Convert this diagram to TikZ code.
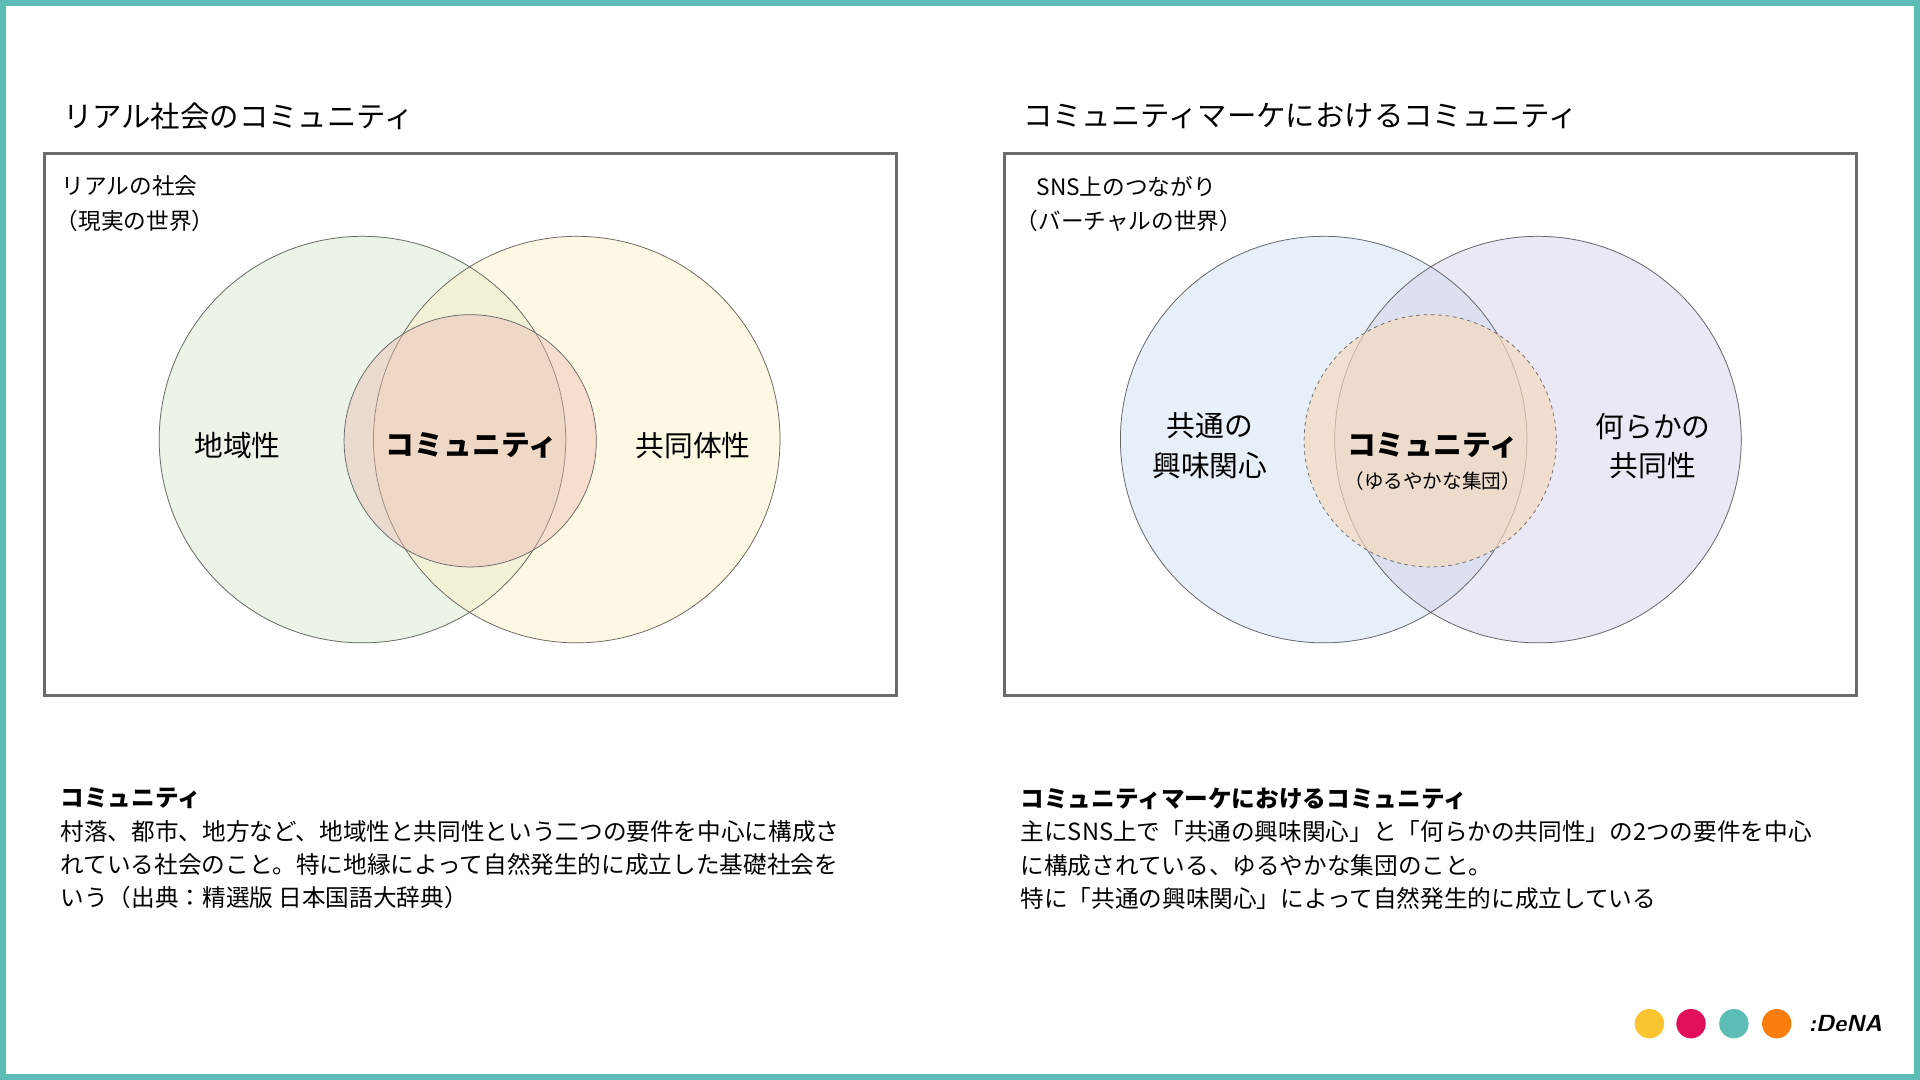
\documentclass[tikz,border=0pt]{standalone}
\usepackage{fontspec}
\setmainfont{Noto Sans CJK JP}
\definecolor{teal}{HTML}{5BBDB5}
\definecolor{frame}{HTML}{6B6B6B}
\definecolor{green}{HTML}{D3E6C9}
\definecolor{yellow}{HTML}{FBEFC2}
\definecolor{pink}{HTML}{EBB7AE}
\definecolor{blue}{HTML}{C9DDF2}
\definecolor{purple}{HTML}{D2CDE8}
\definecolor{peach}{HTML}{F7D9B9}
\definecolor{dyellow}{HTML}{FBC531}
\definecolor{dred}{HTML}{E2105A}
\definecolor{dorange}{HTML}{FB7D0E}
\tikzset{
  title/.style  = {anchor=west, font=\fontsize{24}{28}\selectfont},
  small/.style  = {anchor=west, font=\fontsize{18.5}{22}\selectfont},
  label/.style  = {font=\fontsize{23.5}{32}\selectfont, align=center},
  body/.style   = {anchor=north west, align=left,
                   font=\fontsize{19.3}{27.2}\selectfont},
  venn/.style   = {draw=gray!80!black, line width=0.6pt, fill opacity=0.45},
  panel/.style  = {draw=frame, line width=2.5pt},
  dot/.style    = {circle, minimum size=24pt, inner sep=0pt}
}
\begin{document}
\begin{tikzpicture}[x=1pt,y=-1pt]
  \useasboundingbox (0,0) rectangle (1568,882);
  \draw[teal, line width=5pt] (2.5,2.5) rectangle (1565.5,879.5);

  % left panel
  \node[title] (ltitle) at (48,95) {リアル社会のコミュニティ};
  \draw[panel] (36,125) rectangle (732,568);
  \node[small] (lreal) at (47,152) {リアルの社会};
  \node[small] (lworld) at (42,180) {（現実の世界）};
  \fill[venn, green] (296,359) circle (166);
  \fill[venn, yellow] (471,359) circle (166);
  \draw[gray!80!black, line width=0.6pt] (296,359) circle (166) (471,359) circle (166);
  \filldraw[venn, fill=pink, fill opacity=0.4] (384,360) circle (103);
  \node[label] (area) at (194,364) {地域性};
  \node[label, font=\bfseries\fontsize{23.5}{32}\selectfont] (lcomm) at (385,364) {コミュニティ};
  \node[label] (commune) at (566,364) {共同体性};

  % right panel
  \node[title] (rtitle) at (832,95) {コミュニティマーケにおけるコミュニティ};
  \draw[panel] (820,125) rectangle (1516,568);
  \node[small] (sns) at (843,152) {SNS上のつながり};
  \node[small] (virtual) at (826,180) {（バーチャルの世界）};
  \fill[venn, blue] (1081,359) circle (166);
  \fill[venn, purple] (1256,359) circle (166);
  \draw[gray!80!black, line width=0.6pt] (1081,359) circle (166) (1256,359) circle (166);
  \filldraw[venn, fill=peach, fill opacity=0.65, dashed] (1168,360) circle (103);
  \node[label] (interest) at (988,364) {共通の\\興味関心};
  \node[label] (common) at (1350,364) {何らかの\\共同性};
  \node[label, font=\bfseries\fontsize{23.5}{32}\selectfont] (rcomm) at (1170,364) {コミュニティ};
  \node[font=\fontsize{16}{19}\selectfont] (loose) at (1170,393) {（ゆるやかな集団）};

  % descriptions
  \node[body] (ldesc) at (46,640) {\textbf{コミュニティ}\\
    村落、都市、地方など、地域性と共同性という二つの要件を中心に構成さ\\
    れている社会のこと。特に地縁によって自然発生的に成立した基礎社会を\\
    いう（出典：精選版 日本国語大辞典）};
  \node[body] (rdesc) at (830,640) {\textbf{コミュニティマーケにおけるコミュニティ}\\
    主にSNS上で「共通の興味関心」と「何らかの共同性」の2つの要件を中心\\
    に構成されている、ゆるやかな集団のこと。\\
    特に「共通の興味関心」によって自然発生的に成立している};

  % logo
  \node[dot, fill=dyellow] (d1) at (1347,836) {};
  \node[dot, fill=dred] (d2) at (1381,836) {};
  \node[dot, fill=teal] (d3) at (1416,836) {};
  \node[dot, fill=dorange] (d4) at (1451,836) {};
  \node[font=\bfseries\itshape\fontsize{19}{24}\selectfont\sffamily] (logo) at (1507,836) {:DeNA};
\end{tikzpicture}
\end{document}
